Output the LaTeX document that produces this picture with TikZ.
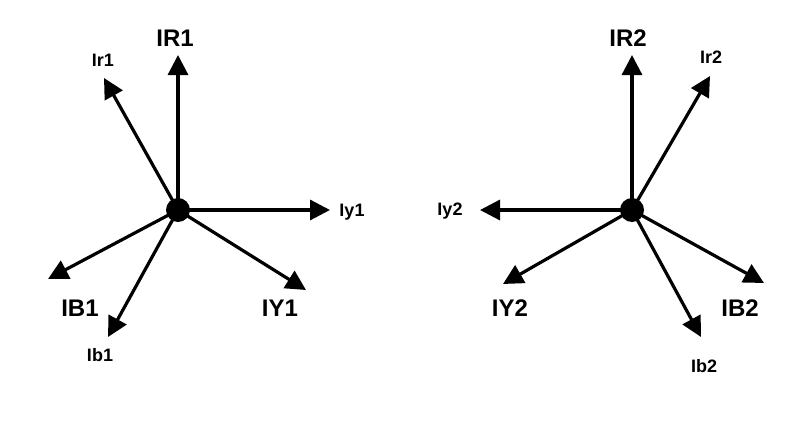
\documentclass[tikz,border=0pt]{standalone}
\usepackage{fontspec}
\setmainfont{Liberation Sans}
\usetikzlibrary{arrows.meta}
\begin{document}
\begin{tikzpicture}[x=1pt,y=-1pt,
  vec/.style={line width=3.2pt,-{Triangle[length=20pt,width=20pt]}},
  big/.style={font=\fontsize{24}{26}\selectfont\bfseries},
  small/.style={font=\fontsize{18}{20}\selectfont\bfseries},
  dot/.style={circle,fill=black,minimum size=24pt,inner sep=0pt}]
\useasboundingbox (0,0) rectangle (795,431);
% left
\node[dot] (c1) at (178,210) {};
\coordinate (tR1) at (178,55);
\coordinate (tr1) at (104,78);
\coordinate (ty1) at (330,210);
\coordinate (tY1) at (306,290);
\coordinate (tB1) at (48,279);
\coordinate (tb1) at (108,337);
\foreach \t in {tR1,tr1,ty1,tY1,tB1,tb1} \draw[vec] (c1.center) -- (\t);
\node[big] (lR1) at (175,38) {IR1};
\node[small] (lr1) at (103,60) {Ir1};
\node[small] (ly1) at (352,212) {Iy1};
\node[big] (lY1) at (280,308) {IY1};
\node[big] (lB1) at (80,308) {IB1};
\node[small] (lb1) at (100,355) {Ib1};
% right
\node[dot] (c2) at (632,210) {};
\coordinate (tR2) at (632,55);
\coordinate (tr2) at (710,76);
\coordinate (ty2) at (480,210);
\coordinate (tY2) at (503,284);
\coordinate (tB2) at (764,283);
\coordinate (tb2) at (701,337);
\foreach \t in {tR2,tr2,ty2,tY2,tB2,tb2} \draw[vec] (c2.center) -- (\t);
\node[big] (lR2) at (628,38) {IR2};
\node[small] (lr2) at (711,57) {Ir2};
\node[small] (ly2) at (450,211) {Iy2};
\node[big] (lY2) at (510,308) {IY2};
\node[big] (lB2) at (740,308) {IB2};
\node[small] (lb2) at (704,366) {Ib2};
\end{tikzpicture}
\end{document}
